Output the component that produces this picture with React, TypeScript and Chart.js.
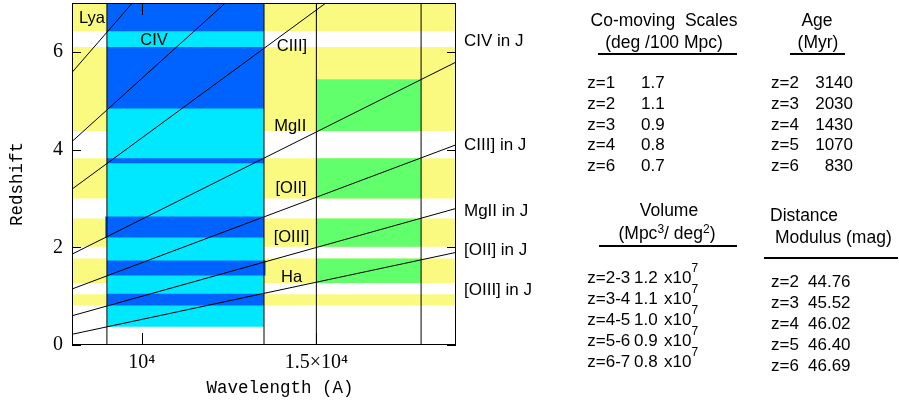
import React, { useEffect, useRef } from 'react';
import { Chart, registerables } from 'chart.js';

Chart.register(...registerables);

// ---------- data ----------
const lineNames = ['Lya', 'CIV', 'CIII]', 'MgII', '[OII]', '[OIII]', 'Ha'];
const restWavelengths = [1216, 1549, 1909, 2798, 3727, 5007, 6563];
const lineLabelWavelength = [8573, 10350, 14300, 14250, 14275, 14290, 14290];
const lineLabelZ = [6.68, 6.24, 6.12, 4.48, 3.2, 2.2, 1.375];

const edgeWavelengths = [9000, 13500, 15000, 18000];

const yellowBandsZ = [[0.81, 1.04], [1.27, 1.77], [2.01, 2.59], [3.0, 3.82], [4.38, 6.1], [6.42, 7.0]];
const cyanWavelengths = [9000, 13500];
const cyanZ = [0.376, 7.0];
const darkBlueWavelengths = [[9000, 13500], [9000, 13550], [8950, 13500], [9000, 13500], [9000, 13500], [9000, 13500]];
const darkBlueZ = [[0.81, 1.05], [1.42, 1.73], [2.2, 2.63], [3.72, 3.82], [4.84, 6.1], [6.42, 7.0]];
const greenWavelengths = [15000, 18000];
const greenBandsZ = [[1.27, 1.77], [2.01, 2.59], [3.0, 3.82], [4.38, 5.44]];

const jLabels = ['CIV in J', 'CIII] in J', 'MgII in J', '[OII] in J', '[OIII] in J'];
const jLabelZ = [6.22, 4.085, 2.73, 1.93, 1.11];

const yTickLabels: Record<string, string> = { '0': '0', '2': '2', '4': '4', '6': '6' };
const xTickLabels: Record<string, string> = { '10000': '10\u2074', '15000': '1.5\u00d710\u2074' };

const scaleZ = ['z=1', 'z=2', 'z=3', 'z=4', 'z=6'];
const scaleVals = ['1.7', '1.1', '0.9', '0.8', '0.7'];
const ageZ = ['z=2', 'z=3', 'z=4', 'z=5', 'z=6'];
const ageVals = ['3140', '2030', '1430', '1070', '830'];
const volZ = ['z=2-3', 'z=3-4', 'z=4-5', 'z=5-6', 'z=6-7'];
const volVals = ['1.2', '1.1', '1.0', '0.9', '0.8'];
const volExp = '7';
const dmZ = ['z=2', 'z=3', 'z=4', 'z=5', 'z=6'];
const dmVals = ['44.76', '45.52', '46.02', '46.40', '46.69'];

const X_MIN = 8000;
const X_MAX = 19000;
const Z_MIN = 0;
const Z_MAX = 7;

// ---------- colours ----------
const YELLOW = '#FAFA80';
const CYAN = '#00E8FF';
const BLUE = '#0062FF';
const GREEN = '#62FF6C';

function rect(x0: number, x1: number, z0: number, z1: number, color: string, order: number) {
  return {
    type: 'line',
    data: [{ x: x0, y: z1 }, { x: x1, y: z1 }],
    fill: { value: z0 },
    backgroundColor: color,
    borderColor: 'transparent',
    borderWidth: 0,
    pointRadius: 0,
    order,
  };
}

const decorPlugin = {
  id: 'decor',
  afterDatasetsDraw(chart: any) {
    const { ctx, chartArea } = chart;
    const { left, right, top, bottom } = chartArea;
    const xs = chart.scales.x;
    const ys = chart.scales.y;
    ctx.save();
    ctx.strokeStyle = '#000';
    ctx.lineWidth = 1;
    // frame
    ctx.strokeRect(left + 0.5, top + 0.5, right - left - 1, bottom - top - 1);
    ctx.beginPath();
    for (const t of ys.ticks) {
      const major = yTickLabels[String(t.value)] !== undefined;
      const len = major ? 9 : 5;
      const py = Math.round(ys.getPixelForValue(t.value)) + 0.5;
      ctx.moveTo(left, py); ctx.lineTo(left + len, py);
      ctx.moveTo(right, py); ctx.lineTo(right - len, py);
    }
    for (const t of xs.ticks) {
      const major = xTickLabels[String(t.value)] !== undefined;
      const len = major ? 12 : 6;
      const px = Math.round(xs.getPixelForValue(t.value)) + 0.5;
      ctx.moveTo(px, bottom); ctx.lineTo(px, bottom - len);
      ctx.moveTo(px, top); ctx.lineTo(px, top + len);
    }
    ctx.stroke();

    // line labels inside plot
    ctx.fillStyle = '#000';
    ctx.font = '16.5px "Liberation Sans", Arial, sans-serif';
    ctx.textAlign = 'center';
    ctx.textBaseline = 'middle';
    lineNames.forEach((n, i) => {
      ctx.fillText(n, xs.getPixelForValue(lineLabelWavelength[i]), ys.getPixelForValue(lineLabelZ[i]));
    });
    // J labels on the right
    ctx.font = '17px "Liberation Sans", Arial, sans-serif';
    ctx.textAlign = 'left';
    jLabels.forEach((n, i) => {
      ctx.fillText(n, right + 8, ys.getPixelForValue(jLabelZ[i]));
    });

    // axis titles
    ctx.font = '17.5px "Liberation Mono", "DejaVu Sans Mono", monospace';
    ctx.textAlign = 'center';
    ctx.fillText('Wavelength (A)', 280, 388);
    ctx.save();
    ctx.translate(17, 184);
    ctx.rotate(-Math.PI / 2);
    ctx.fillText('Redshift', 0, 0);
    ctx.restore();
    ctx.restore();
  },
};

const FONT = '"Liberation Sans", Arial, sans-serif';

function Txt(props: { x: number; y: number; align?: 'left' | 'center' | 'right'; size?: number; children: React.ReactNode }) {
  const { x, y, align = 'left', size = 17.5, children } = props;
  const style: React.CSSProperties = {
    position: 'absolute',
    top: y - 10,
    lineHeight: '20px',
    fontSize: size,
    fontFamily: FONT,
    whiteSpace: 'pre',
    color: '#000',
  };
  if (align === 'left') style.left = x;
  else if (align === 'right') style.right = 899 - x;
  else { style.left = x; style.transform = 'translateX(-50%)'; }
  return <div style={style}>{children}</div>;
}

function Rule(props: { x0: number; x1: number; y: number }) {
  return (
    <div
      style={{
        position: 'absolute',
        left: props.x0,
        top: props.y - 1,
        width: props.x1 - props.x0,
        height: 2,
        background: '#000',
      }}
    />
  );
}

export default function App() {
  const ref = useRef<HTMLCanvasElement | null>(null);

  useEffect(() => {
    if (!ref.current) return;
    const datasets: any[] = [];
    // spectral lines
    restWavelengths.forEach((l0) => {
      datasets.push({
        type: 'line',
        data: [{ x: X_MIN, y: X_MIN / l0 - 1 }, { x: X_MAX, y: X_MAX / l0 - 1 }],
        borderColor: '#000',
        borderWidth: 1,
        pointRadius: 0,
        fill: false,
        order: 0,
      });
    });
    // band edges
    edgeWavelengths.forEach((w) => {
      datasets.push({
        type: 'line',
        data: [{ x: w, y: Z_MIN }, { x: w, y: Z_MAX }],
        borderColor: '#000',
        borderWidth: 1,
        pointRadius: 0,
        fill: false,
        order: 1,
      });
    });
    darkBlueZ.forEach((b, i) => datasets.push(rect(darkBlueWavelengths[i][0], darkBlueWavelengths[i][1], b[0], b[1], BLUE, 2)));
    greenBandsZ.forEach((b) => datasets.push(rect(greenWavelengths[0], greenWavelengths[1], b[0], b[1], GREEN, 2)));
    datasets.push(rect(cyanWavelengths[0], cyanWavelengths[1], cyanZ[0], cyanZ[1], CYAN, 3));
    yellowBandsZ.forEach((b) => datasets.push(rect(X_MIN, X_MAX, b[0], b[1], YELLOW, 5)));

    const chart = new Chart(ref.current, {
      type: 'line',
      data: { datasets },
      plugins: [decorPlugin],
      options: {
        responsive: false,
        animation: false,
        devicePixelRatio: 1,
        layout: { padding: { left: 0, top: 3, right: 443, bottom: 0 } },
        plugins: { legend: { display: false }, tooltip: { enabled: false } },
        scales: {
          x: {
            type: 'linear',
            min: X_MIN,
            max: X_MAX,
            grid: { display: false, drawTicks: false },
            border: { display: false },
            afterFit: (s: any) => { s.height = 57; s.paddingLeft = 0; s.paddingRight = 0; },
            ticks: {
              stepSize: 1000,
              autoSkip: false,
              maxRotation: 0,
              padding: 6,
              color: '#000',
              font: { family: '"Liberation Serif", "Times New Roman", serif', size: 20 },
              callback: (v: any) => (xTickLabels[String(v)] ?? null),
            },
          },
          y: {
            type: 'linear',
            min: Z_MIN,
            max: Z_MAX,
            grid: { display: false, drawTicks: false },
            border: { display: false },
            afterFit: (s: any) => { s.width = 72; s.paddingTop = 0; s.paddingBottom = 0; },
            ticks: {
              stepSize: 0.5,
              autoSkip: false,
              padding: 9,
              color: '#000',
              font: { family: '"Liberation Serif", "Times New Roman", serif', size: 20 },
              callback: (v: any) => (yTickLabels[String(v)] ?? null),
            },
          },
        },
      } as any,
    } as any);
    return () => chart.destroy();
  }, []);

  const rowStep = 20.8;
  const sup: React.CSSProperties = { fontSize: 12, position: 'relative', top: -6 };
  return (
    <div style={{ position: 'fixed', left: 0, top: 0, width: 899, height: 402, background: '#fff', overflow: 'hidden' }}>
      <canvas ref={ref} width={899} height={402} style={{ position: 'absolute', left: 0, top: 0, width: 899, height: 402 }} />

      {/* Co-moving scales */}
      <Txt x={664} y={19.5} align="center">{'Co-moving  Scales'}</Txt>
      <Txt x={664} y={41.5} align="center">{'(deg /100 Mpc)'}</Txt>
      <Rule x0={598} x1={737} y={54.3} />
      {scaleZ.map((z, i) => (
        <React.Fragment key={'s' + i}>
          <Txt x={587.3} y={83 + i * rowStep} size={17}>{z}</Txt>
          <Txt x={641} y={83 + i * rowStep} size={17}>{scaleVals[i]}</Txt>
        </React.Fragment>
      ))}

      {/* Age */}
      <Txt x={817} y={19.5} align="center">Age</Txt>
      <Txt x={818} y={41.5} align="center">(Myr)</Txt>
      <Rule x0={790} x1={845} y={54.3} />
      {ageZ.map((z, i) => (
        <React.Fragment key={'a' + i}>
          <Txt x={771} y={83 + i * rowStep} size={17}>{z}</Txt>
          <Txt x={853} y={83 + i * rowStep} align="right" size={17}>{ageVals[i]}</Txt>
        </React.Fragment>
      ))}

      {/* Volume */}
      <Txt x={669} y={210} align="center">Volume</Txt>
      <Txt x={667} y={233} align="center">
        (Mpc<span style={sup}>3</span>/ deg<span style={sup}>2</span>)
      </Txt>
      <Rule x0={599} x1={737} y={246} />
      {volZ.map((z, i) => (
        <React.Fragment key={'v' + i}>
          <Txt x={587.3} y={278.3 + i * rowStep} size={17}>{z}</Txt>
          <Txt x={634} y={278.3 + i * rowStep} size={17}>{volVals[i]}</Txt>
          <Txt x={664} y={278.3 + i * rowStep} size={17}>
            {'x10'}
            <span style={{ fontSize: 12, position: 'relative', top: -11 }}>{volExp}</span>
          </Txt>
        </React.Fragment>
      ))}

      {/* Distance modulus */}
      <Txt x={770} y={215}>Distance</Txt>
      <Txt x={775} y={237}>Modulus (mag)</Txt>
      <Rule x0={764} x1={898} y={257.7} />
      {dmZ.map((z, i) => (
        <React.Fragment key={'d' + i}>
          <Txt x={771} y={282.3 + i * rowStep} size={17}>{z}</Txt>
          <Txt x={808} y={282.3 + i * rowStep} size={17}>{dmVals[i]}</Txt>
        </React.Fragment>
      ))}
    </div>
  );
}
